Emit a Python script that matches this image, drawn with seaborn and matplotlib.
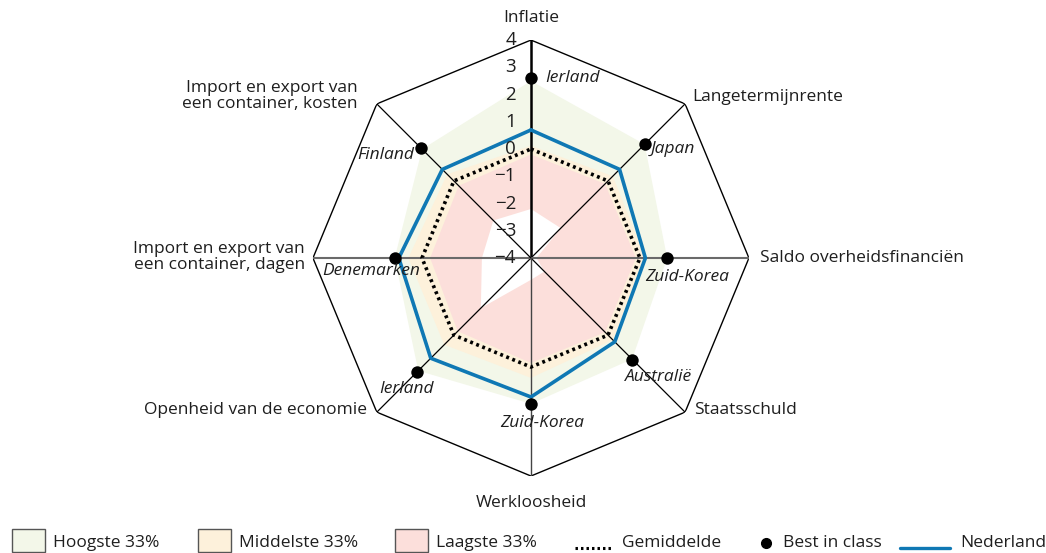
import numpy as np
import pandas as pd
import seaborn as sns
import matplotlib.pyplot as plt
from matplotlib.patches import Rectangle
from matplotlib.lines import Line2D

# --------------------------- Data --------------------------- #
axis_labels = [
    "Inflatie", "Langetermijnrente", "Saldo overheidsfinanciën", "Staatsschuld",
    "Werkloosheid", "Openheid van de economie",
    "Import en export van\neen container, dagen",
    "Import en export van\neen container, kosten",
]
hoogste_max = [2.5, 1.9, 1.0, 1.25, 1.35, 1.85, 1.0, 1.65]
middelste_max = [0.12, 0.25, 0.2, 0.25, 0.4, 0.5, 0.5, 0.35]
laagste_max = [-0.2, -0.15, -0.15, -0.15, -0.15, -0.2, -0.3, -0.25]
laagste_min = [-2.2, -2.45, -3.8, -3.3, -3.2, -1.4, -2.2, -2.05]
gemiddelde = [0.0, 0.0, 0.0, 0.0, 0.0, 0.0, 0.0, 0.0]
nederland = [0.7, 0.6, 0.2, 0.35, 1.1, 1.2, 0.85, 0.6]
best_in_class = [2.6, 1.9, 1.0, 1.27, 1.36, 1.9, 1.0, 1.7]
best_landen = ["Ierland", "Japan", "Zuid-Korea", "Australië", "Zuid-Korea",
               "Ierland", "Denemarken", "Finland"]
tick_values = [-4, -3, -2, -1, 0, 1, 2, 3, 4]
r_min, r_max = -4, 4

# --------------------------- Style --------------------------- #
sns.set_theme(style="white")
plt.rcParams['font.family'] = ['Open Sans', 'DejaVu Sans']
plt.rcParams['font.size'] = 12.5

col_hoog = "#f3f7e9"
col_mid = "#fdf1db"
col_laag = "#fcdfdb"
col_ned = "#0f78b4"
txt_col = "#1e1e1e"

n = len(axis_labels)
theta = np.arange(n) * 2 * np.pi / n
theta_closed = np.append(theta, 2 * np.pi)


def closed(vals):
    return np.append(vals, vals[0])


df = pd.DataFrame({
    "theta": theta, "gemiddelde": gemiddelde, "nederland": nederland,
    "best": best_in_class,
})
df_closed = pd.DataFrame({
    "theta": theta_closed,
    "gemiddelde": closed(gemiddelde),
    "nederland": closed(nederland),
})

fig = plt.figure(figsize=(10.46, 5.53), dpi=100)
ax = fig.add_axes([0.2992, 0.1392, 0.4168, 0.7884], projection="polar")
ax.set_theta_zero_location("N")
ax.set_theta_direction(-1)

# ----------------------- Bands ------------------------------ #
ax.fill(theta_closed, closed(hoogste_max), color=col_hoog, lw=0, zorder=1)
ax.fill(theta_closed, closed(middelste_max), color=col_mid, lw=0, zorder=1.1)
ax.fill(theta_closed, closed(laagste_max), color=col_laag, lw=0, zorder=1.2)
ax.fill(theta_closed, closed(laagste_min), color="white", lw=0, zorder=1.3)

# ----------------------- Frame and spokes ------------------- #
ax.plot(theta_closed, [r_max] * (n + 1), color="black", lw=1.0, zorder=2)
spoke_style = {0: ("black", 1.8), 2: ("#6a6a6a", 1.5), 4: ("#444444", 1.0), 6: ("#6a6a6a", 1.5)}
for i, t in enumerate(theta):
    c, w = spoke_style.get(i, ("black", 0.9))
    ax.plot([t, t], [r_min, r_max], color=c, lw=w, zorder=2)

# ----------------------- Series ----------------------------- #
sns.lineplot(data=df_closed, x="theta", y="gemiddelde", ax=ax, sort=False,
             color="black", lw=2.6, linestyle=(0, (0.8, 1.0)), zorder=3)
sns.lineplot(data=df_closed, x="theta", y="nederland", ax=ax, sort=False,
             color=col_ned, lw=2.6, zorder=4)
sns.scatterplot(data=df, x="theta", y="best", ax=ax, color="black", s=80,
                edgecolor="black", linewidth=0, zorder=5)

ax.set_ylim(r_min, r_max)
ax.set_xticks([])
ax.set_yticks([])
ax.grid(False)
ax.spines["polar"].set_visible(False)
ax.set_xlabel("")
ax.set_ylabel("")
ax.patch.set_alpha(0)

# ----------------------- Tick labels ------------------------ #
for v in tick_values:
    lab = str(v).replace("-", "\u2212")
    ax.annotate(lab, xy=(0, v), xytext=(-15, 0), textcoords="offset pixels",
                ha="right", va="center", fontsize=13.5, color=txt_col, zorder=6)

# ----------------------- Axis labels ------------------------ #
label_pos = [
    ((0, 22), "center", "center"),
    ((7, 7), "left", "center"),
    ((11, 0), "left", "center"),
    ((9, 2), "left", "center"),
    ((0, -27), "center", "center"),
    ((-10, 2), "right", "center"),
    ((-8, 1), "right", "center"),
    ((-19, 8), "right", "center"),
]
for t, lab, (off, ha, va) in zip(theta, axis_labels, label_pos):
    ax.annotate(lab, xy=(t, r_max), xytext=off, textcoords="offset pixels",
                ha=ha, va=va, color=txt_col, annotation_clip=False,
                multialignment="right" if ha == "right" else "left", linespacing=1.0)

# ----------------------- Best-in-class names ---------------- #
name_pos = [
    ((14, 0), "left"),
    ((6, -5), "left"),
    ((20, -19), "center"),
    ((26, -17), "center"),
    ((11, -19), "center"),
    ((-11, -17), "center"),
    ((-24, -13), "center"),
    ((-7, -7), "right"),
]
for t, v, name, (off, ha) in zip(theta, best_in_class, best_landen, name_pos):
    ax.annotate(name, xy=(t, v), xytext=off, textcoords="offset pixels",
                ha=ha, va="center", style="italic", color=txt_col, zorder=6)

# ----------------------- Legend ----------------------------- #
lax = fig.add_axes([0, 0, 1, 1])
lax.set_xlim(0, 1046)
lax.set_ylim(553, 0)
lax.axis("off")
lax.patch.set_alpha(0)

legend_boxes = [(12, col_hoog, "Hoogste 33%"), (198, col_mid, "Middelste 33%"),
                (395, col_laag, "Laagste 33%")]
y_leg = 543
for x0, fc, lab in legend_boxes:
    lax.add_patch(Rectangle((x0, 529), 33, 23, facecolor=fc, edgecolor="#555555", lw=1))
    lax.text(x0 + 41, y_leg, lab, ha="left", va="center", color=txt_col)

lax.add_line(Line2D([575, 612], [548, 548], color="black", lw=2.2, linestyle=(0, (0.8, 1.0))))
lax.text(622, y_leg, "Gemiddelde", ha="left", va="center", color=txt_col)
lax.plot([766], [543], marker="o", color="black", markersize=7)
lax.text(783, y_leg, "Best in class", ha="left", va="center", color=txt_col)
lax.add_line(Line2D([900, 950], [548, 548], color=col_ned, lw=2.4))
lax.text(960, y_leg, "Nederland", ha="left", va="center", color=txt_col)

plt.savefig("out.png", dpi=100)
plt.close()
